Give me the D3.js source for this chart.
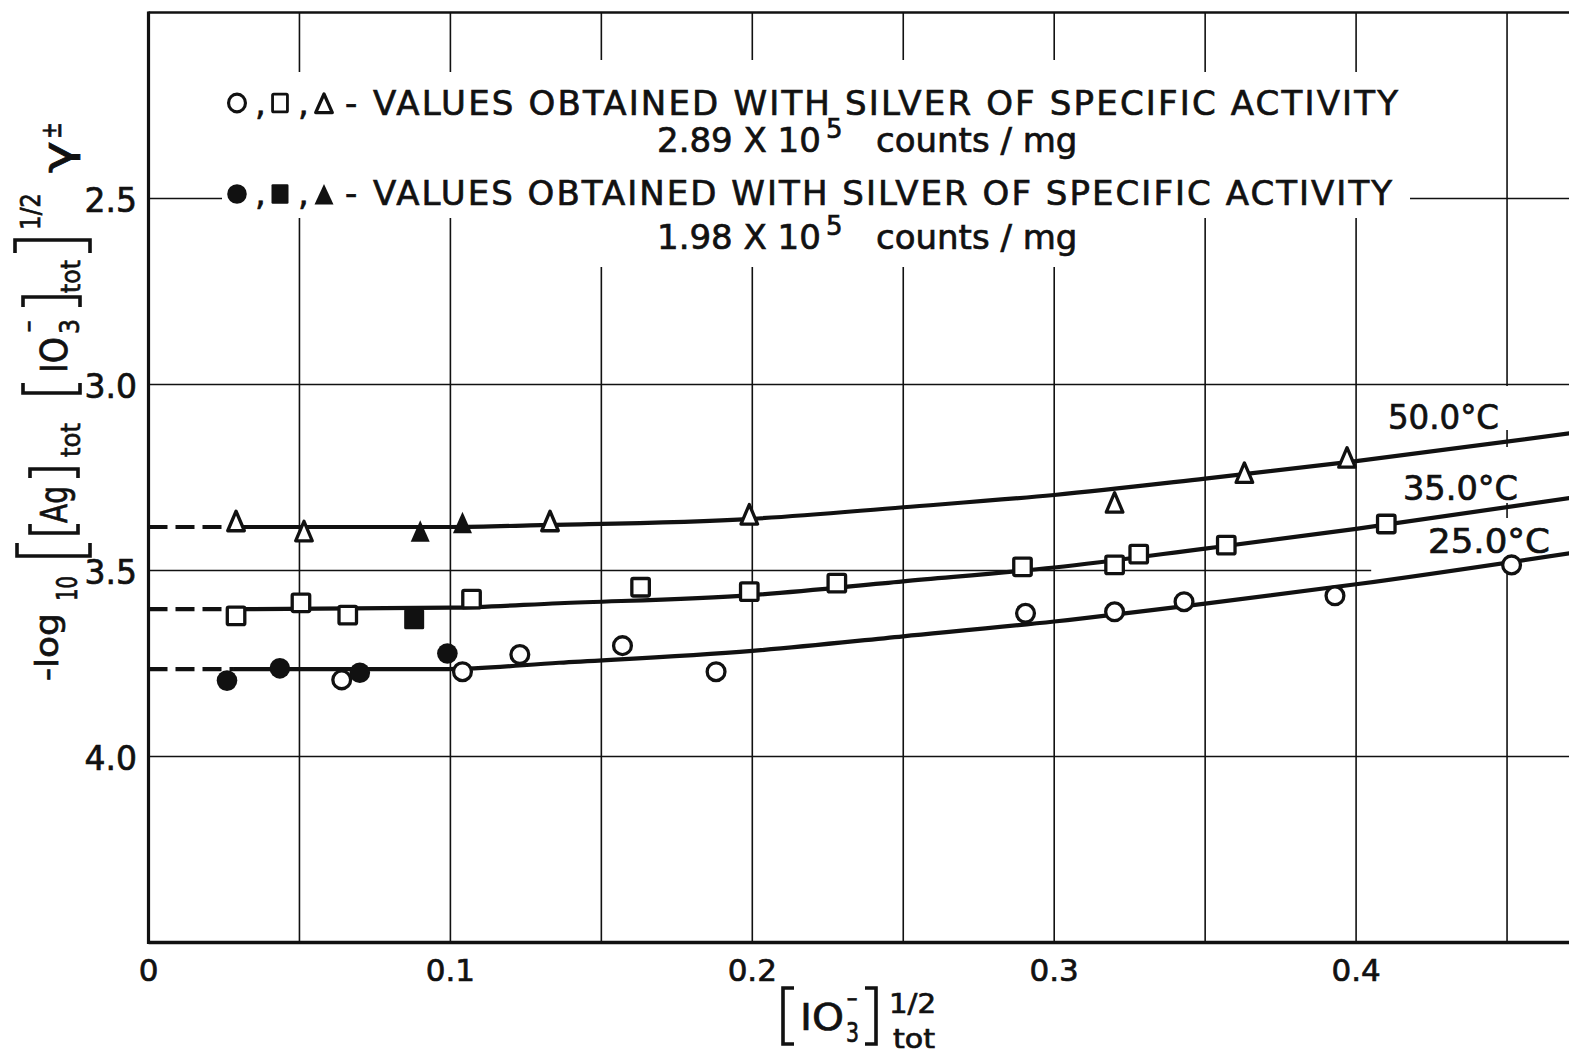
<!DOCTYPE html>
<html>
<head>
<meta charset="utf-8">
<script src="https://cdn.jsdelivr.net/npm/d3@7"></script>
<style>
  html, body { margin: 0; padding: 0; background: #fff; }
  svg { display: block; }
  text { font-family: "DejaVu Sans", sans-serif; fill: #111; stroke: #111; stroke-width: 0.7px; }
</style>
</head>
<body>
<svg id="chart" width="1569" height="1053"></svg>
<script>
// ---------- data ----------
const xTickValues = [0, 0.1, 0.2, 0.3, 0.4];
const xTickLabels = ["0", "0.1", "0.2", "0.3", "0.4"];
const yTickValues = [2.5, 3.0, 3.5, 4.0];
const yTickLabels = ["2.5", "3.0", "3.5", "4.0"];
const xGridValues = [0.05, 0.10, 0.15, 0.20, 0.25, 0.30, 0.35, 0.40, 0.45];
const yGridValues = [2.5, 3.0, 4.0];

// measured points: [ [IO3-]^1/2 , -log10(...) ]
const open25 = [[0.064,3.794],[0.104,3.772],[0.123,3.726],[0.157,3.702],[0.188,3.772],
                [0.2905,3.615],[0.320,3.611],[0.343,3.584],[0.393,3.568],[0.4515,3.485]];
const filled25 = [[0.026,3.796],[0.0435,3.763],[0.070,3.775],[0.099,3.723]];
const open35 = [[0.029,3.622],[0.0505,3.587],[0.066,3.620],[0.107,3.577],[0.163,3.545],
                [0.199,3.557],[0.228,3.534],[0.2895,3.490],[0.320,3.485],[0.328,3.456],
                [0.357,3.432],[0.410,3.375]];
const filled35 = [[0.088,3.631]];
const open50 = [[0.029,3.369],[0.0515,3.396],[0.133,3.369],[0.199,3.351],[0.320,3.319],
                [0.363,3.239],[0.397,3.198]];
const filled50 = [[0.090,3.396],[0.104,3.373]];

// smooth curves through each temperature
const fit50 = [[0.028,3.383],[0.10,3.383],[0.13,3.378],[0.20,3.361],[0.25,3.330],
               [0.30,3.297],[0.35,3.253],[0.40,3.206],[0.472,3.130]];
const fit35 = [[0.028,3.604],[0.10,3.600],[0.136,3.588],[0.20,3.566],[0.25,3.529],
               [0.30,3.492],[0.35,3.441],[0.40,3.388],[0.472,3.304]];
const fit25 = [[0.028,3.765],[0.099,3.765],[0.136,3.748],[0.20,3.716],[0.25,3.677],
               [0.30,3.637],[0.35,3.589],[0.40,3.537],[0.472,3.452]];
// dashed extrapolation to zero
const extrap50 = [[0, 3.383], [0.028, 3.383]];
const extrap35 = [[0, 3.604], [0.028, 3.604]];
const extrap25 = [[0, 3.765], [0.028, 3.765]];

const curveLabels = ["50.0°C", "35.0°C", "25.0°C"];
const legendLabel = "VALUES OBTAINED WITH SILVER OF SPECIFIC ACTIVITY";
const activities = ["2.89", "1.98"];

// ---------- layout ----------
const svg = d3.select("#chart");
svg.append("rect").attr("width", 1569).attr("height", 1053).attr("fill", "#fff");

const x = d3.scaleLinear().domain([0, 0.5]).range([148.5, 1658]);
const y = d3.scaleLinear().domain([2.0, 4.5]).range([12.5, 942.5]);
const ink = "#111";

// ---------- grid ----------
const grid = svg.append("g").attr("stroke", ink).attr("stroke-width", 1.6);
grid.selectAll("line.v").data(xGridValues).join("line")
  .attr("x1", d => x(d)).attr("x2", d => x(d))
  .attr("y1", y(2.0)).attr("y2", y(4.5));
grid.selectAll("line.h").data(yGridValues).join("line")
  .attr("x1", x(0)).attr("x2", x(0.5))
  .attr("y1", d => y(d)).attr("y2", d => y(d));
grid.append("line")
  .attr("x1", x(0)).attr("x2", x(0.405))
  .attr("y1", y(3.5)).attr("y2", y(3.5));

// white label backgrounds that interrupt the grid
const bg = svg.append("g").attr("fill", "#fff");
bg.append("rect").attr("x", 222).attr("y", 72).attr("width", 1188).attr("height", 146);
bg.append("rect").attr("x", 592).attr("y", 60).attr("width", 518).attr("height", 207);
bg.append("rect").attr("x", 1380).attr("y", 386).attr("width", 140).attr("height", 44);
bg.append("rect").attr("x", 1396).attr("y", 447).attr("width", 130).attr("height", 56);
bg.append("rect").attr("x", 1420).attr("y", 518).attr("width", 145).attr("height", 42);

// ---------- frame ----------
const frame = svg.append("g").attr("stroke", ink).attr("fill", "none");
frame.append("line").attr("x1", x(0)).attr("x2", x(0)).attr("y1", y(2.0) - 1).attr("y2", y(4.5) + 1.5).attr("stroke-width", 3.2);
frame.append("line").attr("x1", x(0)).attr("x2", x(0.5)).attr("y1", y(4.5)).attr("y2", y(4.5)).attr("stroke-width", 3.4);
frame.append("line").attr("x1", x(0)).attr("x2", x(0.5)).attr("y1", y(2.0)).attr("y2", y(2.0)).attr("stroke-width", 2.6);

// ---------- tick labels ----------
svg.append("g").selectAll("text").data(yTickValues).join("text")
  .attr("x", 137).attr("y", d => y(d) + 13)
  .attr("text-anchor", "end").attr("font-size", 33)
  .text((d, i) => yTickLabels[i]);
svg.append("g").selectAll("text").data(xTickValues).join("text")
  .attr("x", d => x(d)).attr("y", 981)
  .attr("text-anchor", "middle").attr("font-size", 31)
  .text((d, i) => xTickLabels[i]);

// ---------- curves ----------
const line = d3.line().x(d => x(d[0])).y(d => y(d[1])).curve(d3.curveMonotoneX);
const curves = svg.append("g").attr("fill", "none").attr("stroke", ink).attr("stroke-width", 4.2);
[fit50, fit35, fit25].forEach(f => curves.append("path").attr("d", line(f)));
[extrap50, extrap35, extrap25].forEach(f =>
  curves.append("path").attr("d", line(f)).attr("stroke-dasharray", "19,8"));

// ---------- markers ----------
function symbol(g, shape, filled, cx, cy, k, sh) {
  const sw = 3.3 * k;
  const fill = filled ? ink : "#fff";
  const stroke = ink;
  const vs = sh || 1;   // vertical stretch
  if (shape === "circle") {
    g.append("ellipse").attr("cx", cx).attr("cy", cy)
      .attr("rx", (filled ? 10.3 : 8.9) * k).attr("ry", (filled ? 10.3 : 8.9) * k * vs)
      .attr("fill", fill).attr("stroke", filled ? "none" : stroke).attr("stroke-width", sw);
  } else if (shape === "square") {
    const s = (filled ? 20 : 17.5) * k;
    g.append("rect").attr("x", cx - s / 2).attr("y", cy - s * vs / 2)
      .attr("width", s).attr("height", s * vs).attr("rx", 1.5 * k)
      .attr("fill", fill).attr("stroke", filled ? "none" : stroke).attr("stroke-width", sw);
  } else {
    const h = (filled ? 11.5 : 10.5) * k * vs, b = (filled ? 10 : 9) * k * vs, w = (filled ? 9.5 : 8.3) * k;
    g.append("path").attr("d", `M${cx},${cy - h}L${cx + w},${cy + b}L${cx - w},${cy + b}Z`)
      .attr("fill", fill).attr("stroke", filled ? "none" : stroke)
      .attr("stroke-width", sw).attr("stroke-linejoin", "round");
  }
}
const marks = svg.append("g");
[[open25, "circle", false], [filled25, "circle", true],
 [open35, "square", false], [filled35, "square", true],
 [open50, "triangle", false], [filled50, "triangle", true]].forEach(([pts, shape, filled]) => {
  pts.forEach(p => symbol(marks, shape, filled, x(p[0]), y(p[1]), 1));
});

// ---------- curve labels ----------
const cl = svg.append("g").attr("font-size", 33);
cl.append("text").attr("x", 1388).attr("y", 429).attr("textLength", 111).attr("lengthAdjust", "spacingAndGlyphs").text(curveLabels[0]);
cl.append("text").attr("x", 1403).attr("y", 500).attr("textLength", 115).attr("lengthAdjust", "spacingAndGlyphs").text(curveLabels[1]);
cl.append("text").attr("x", 1428).attr("y", 553).attr("textLength", 122).attr("lengthAdjust", "spacingAndGlyphs").text(curveLabels[2]);

// ---------- legend ----------
const lg = svg.append("g");
[[103, 115, 152, false, 1025], [194, 205, 249, true, 1019]].forEach(([cy, base, base2, filled, len], i) => {
  symbol(lg, "circle", filled, 237, cy, filled ? 0.95 : 0.95, filled ? 1 : 1.05);
  symbol(lg, "square", filled, 280, cy, filled ? 0.85 : 0.85, filled ? 1.15 : 1.2);
  symbol(lg, "triangle", filled, 324, cy + 1, filled ? 1.0 : 1.0, 0.95);
  lg.append("text").attr("x", 255).attr("y", base).attr("font-size", 34).text(",");
  lg.append("text").attr("x", 298).attr("y", base).attr("font-size", 34).text(",");
  lg.append("text").attr("x", 345).attr("y", base).attr("font-size", 34).text("-");
  lg.append("text").attr("x", 373).attr("y", base).attr("font-size", 34)
    .attr("textLength", len).attr("lengthAdjust", "spacing").text(legendLabel);
  const t = lg.append("text").attr("y", base2).attr("font-size", 34);
  t.append("tspan").attr("x", 657).text(activities[i] + " X 10");
  t.append("tspan").attr("x", 826).attr("dy", -14).attr("font-size", 26).text("5");
  t.append("tspan").attr("x", 876).attr("dy", 14).text("counts / mg");
});

// ---------- y axis title (rotated) ----------
const yt = svg.append("g").attr("transform", "translate(67,700) rotate(-90)");
function piece(g, s, u, v, size, len) {
  const t = g.append("text").attr("x", u).attr("y", v).attr("font-size", size).text(s);
  if (len) t.attr("textLength", len).attr("lengthAdjust", "spacingAndGlyphs");
  return t;
}
function bracket(g, u, w, v1, v2, open) {
  const a = open ? u + w : u, b = open ? u : u + w;
  g.append("path").attr("d", `M${a},${v1}L${b},${v1}L${b},${v2}L${a},${v2}`)
    .attr("fill", "none").attr("stroke", ink).attr("stroke-width", 3.6);
}
piece(yt, "-log", 19, -9, 32, 68);
piece(yt, "10", 99, 10, 28, 25);
bracket(yt, 144, 13, -50, 23, true);
bracket(yt, 167, 9, -37, 11, true);
piece(yt, "Ag", 177, 0, 38, 37);
bracket(yt, 222, 9, -37, 11, false);
piece(yt, "tot", 243, 13, 26, 34);
bracket(yt, 307, 10, -44, 13, true);
piece(yt, "IO", 327, 0, 37, 36);
piece(yt, "3", 366, 12, 26, 15);
piece(yt, "\u2212", 367, -30, 24, 13);
bracket(yt, 393, 10, -44, 13, false);
piece(yt, "tot", 407, 13, 26, 33);
bracket(yt, 447, 13, -52, 23, false);
piece(yt, "1/2", 470, -27, 27, 37);
piece(yt, "\u03b3", 527, 4, 40, 32);
piece(yt, "\u00b1", 561, -6, 28, 17);

// ---------- x axis title ----------
const xt = svg.append("g");
bracket(xt, 783, 11, 988, 1044, true);
piece(xt, "IO", 800, 1030, 37, 44);
piece(xt, "3", 846, 1042, 26, 13);
piece(xt, "\u2212", 846, 1007, 24, 12);
bracket(xt, 865, 11, 988, 1044, false);
piece(xt, "1/2", 889, 1013, 27, 47);
piece(xt, "tot", 893, 1048, 26, 42);
</script>
</body>
</html>
